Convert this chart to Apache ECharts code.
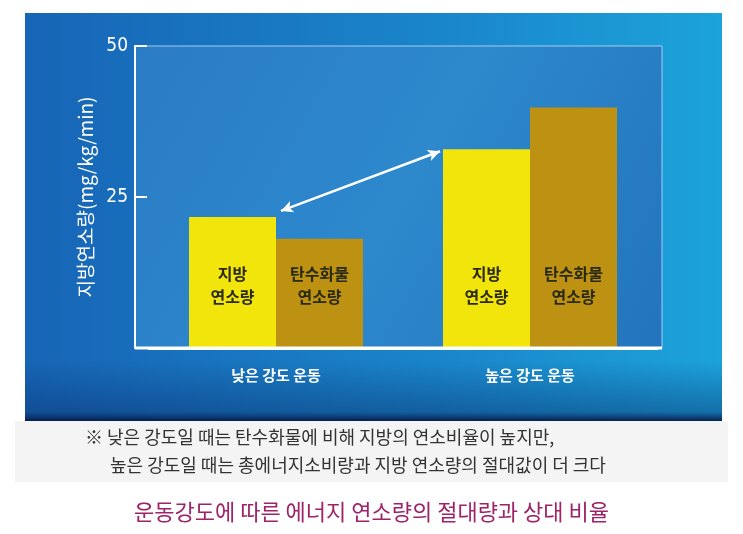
<!DOCTYPE html>
<html>
<head>
<meta charset="utf-8">
<script src="https://cdn.jsdelivr.net/npm/echarts@6/dist/echarts.min.js"></script>
<style>
  html, body { margin: 0; background: #fff; }
  #chart { width: 743px; height: 534px; }
</style>
</head>
<body>
<div id="chart"></div>
<script>
// data
const categories = ['낮은 강도 운동', '높은 강도 운동'];
const fatBurn = [21.7, 32.9];
const carbBurn = [18.1, 39.8];
const fatLabel = '지방\n연소량';
const carbLabel = '탄수화물\n연소량';
const yName = '지방연소량(mg/kg/min)';
const notes = [
  '※ 낮은 강도일 때는 탄수화물에 비해 지방의 연소비율이 높지만,',
  '높은 강도일 때는 총에너지소비량과 지방 연소량의 절대값이 더 크다'
];
const caption = '운동강도에 따른 에너지 연소량의 절대량과 상대 비율';

const KR = '"Noto Sans CJK KR", "Noto Sans", sans-serif';
const BAR_W = 87;

const chart = echarts.init(document.getElementById('chart'));

const option = {
  backgroundColor: '#fff',
  animation: false,
  title: {
    text: caption,
    left: 'center',
    top: 496,
    textStyle: { color: '#9e2469', fontSize: 22, fontWeight: 'normal', fontFamily: KR }
  },
  graphic: [
    // blue panel
    {
      type: 'rect', z: -5, silent: true,
      shape: { x: 25, y: 13, width: 697, height: 408 },
      style: {
        fill: new echarts.graphic.LinearGradient(0, 0, 1, 0, [
          { offset: 0, color: '#1765b6' },
          { offset: 0.6, color: '#1a86ca' },
          { offset: 1, color: '#1ca3db' }
        ])
      }
    },
    {
      type: 'rect', z: -4, silent: true,
      shape: { x: 25, y: 360, width: 697, height: 61 },
      style: {
        fill: new echarts.graphic.LinearGradient(0, 0, 0, 1, [
          { offset: 0, color: 'rgba(10,50,110,0)' },
          { offset: 0.85, color: 'rgba(10,50,110,0.45)' },
          { offset: 1, color: 'rgba(5,25,70,0.95)' }
        ])
      }
    },
    // plot panel
    {
      type: 'rect', z: -3, silent: true,
      shape: { x: 135, y: 46, width: 527, height: 302 },
      style: {
        fill: new echarts.graphic.LinearGradient(0, 0, 1, 1, [
          { offset: 0, color: '#2a7cc5' },
          { offset: 0.5, color: '#2d88cc' },
          { offset: 1, color: '#2274bd' }
        ]),
        stroke: 'rgba(190,225,250,0.8)',
        lineWidth: 1
      }
    },
    {
      type: 'line', z: 5, silent: true,
      shape: { x1: 135, y1: 348, x2: 662, y2: 348 },
      style: { stroke: '#fff', lineWidth: 3 }
    },
    // grey note band
    {
      type: 'rect', z: -5, silent: true,
      shape: { x: 15, y: 421, width: 713, height: 61 },
      style: { fill: '#f4f4f4' }
    },
    {
      type: 'text', silent: true, left: 85, top: 428,
      style: { text: notes[0], fill: '#333', fontSize: 18, fontFamily: KR }
    },
    {
      type: 'text', silent: true, left: 110, top: 456,
      style: { text: notes[1], fill: '#333', fontSize: 18, fontFamily: KR }
    }
  ],
  grid: {
    left: 149,
    right: 86,
    top: 46,
    bottom: 186
  },
  xAxis: {
    type: 'category',
    data: categories,
    axisLine: { lineStyle: { color: '#fff', width: 3 } },
    axisTick: { show: false },
    axisLabel: { color: '#fff', fontSize: 15, fontWeight: 'bold', margin: 20, fontFamily: KR }
  },
  yAxis: {
    type: 'value',
    min: 0,
    max: 50,
    interval: 25,
    offset: 14,
    name: yName,
    nameLocation: 'middle',
    nameRotate: 90,
    nameGap: 34,
    nameTextStyle: { color: '#fff', fontSize: 19, fontFamily: KR },
    axisLine: { show: true, lineStyle: { color: '#fff', width: 2 } },
    axisTick: { show: true, inside: true, length: 12, lineStyle: { color: '#fff', width: 2 } },
    splitLine: { show: false },
    axisLabel: {
      color: '#fff', fontSize: 19, margin: 7, showMinLabel: false,
      fontFamily: '"Liberation Sans Narrow", "DejaVu Sans Condensed", sans-serif'
    }
  },
  series: [
    {
      id: 'fat',
      type: 'bar',
      data: fatBurn,
      barWidth: BAR_W,
      barGap: '0%',
      itemStyle: { color: '#f2e50c' },
      label: {
        show: true, position: 'insideBottom', distance: 40,
        formatter: fatLabel, color: '#2a2a12', fontSize: 16, fontWeight: 'bold',
        lineHeight: 23, fontFamily: KR
      }
    },
    {
      id: 'carb',
      type: 'bar',
      data: carbBurn,
      barWidth: BAR_W,
      itemStyle: { color: '#bd9112' },
      label: {
        show: true, position: 'insideBottom', distance: 40,
        formatter: carbLabel, color: '#2a2a12', fontSize: 16, fontWeight: 'bold',
        lineHeight: 23, fontFamily: KR
      }
    }
  ]
};

chart.setOption(option);

// double-headed arrow between the two fat bars
const a = chart.convertToPixel({ gridIndex: 0 }, [0, fatBurn[0]]);
const b = chart.convertToPixel({ gridIndex: 0 }, [1, fatBurn[1]]);
chart.setOption({
  series: [{
    id: 'fat',
    markLine: {
      silent: true,
      symbol: ['arrow', 'arrow'],
      symbolSize: [9, 12],
      label: { show: false },
      lineStyle: { color: '#fff', width: 2.5, type: 'solid' },
      data: [[{ x: a[0] + 5, y: a[1] - 6 }, { x: b[0] - BAR_W - 3, y: b[1] + 2 }]]
    }
  }]
});

window.onresize = function () {
  chart.resize();
};
</script>
</body>
</html>
